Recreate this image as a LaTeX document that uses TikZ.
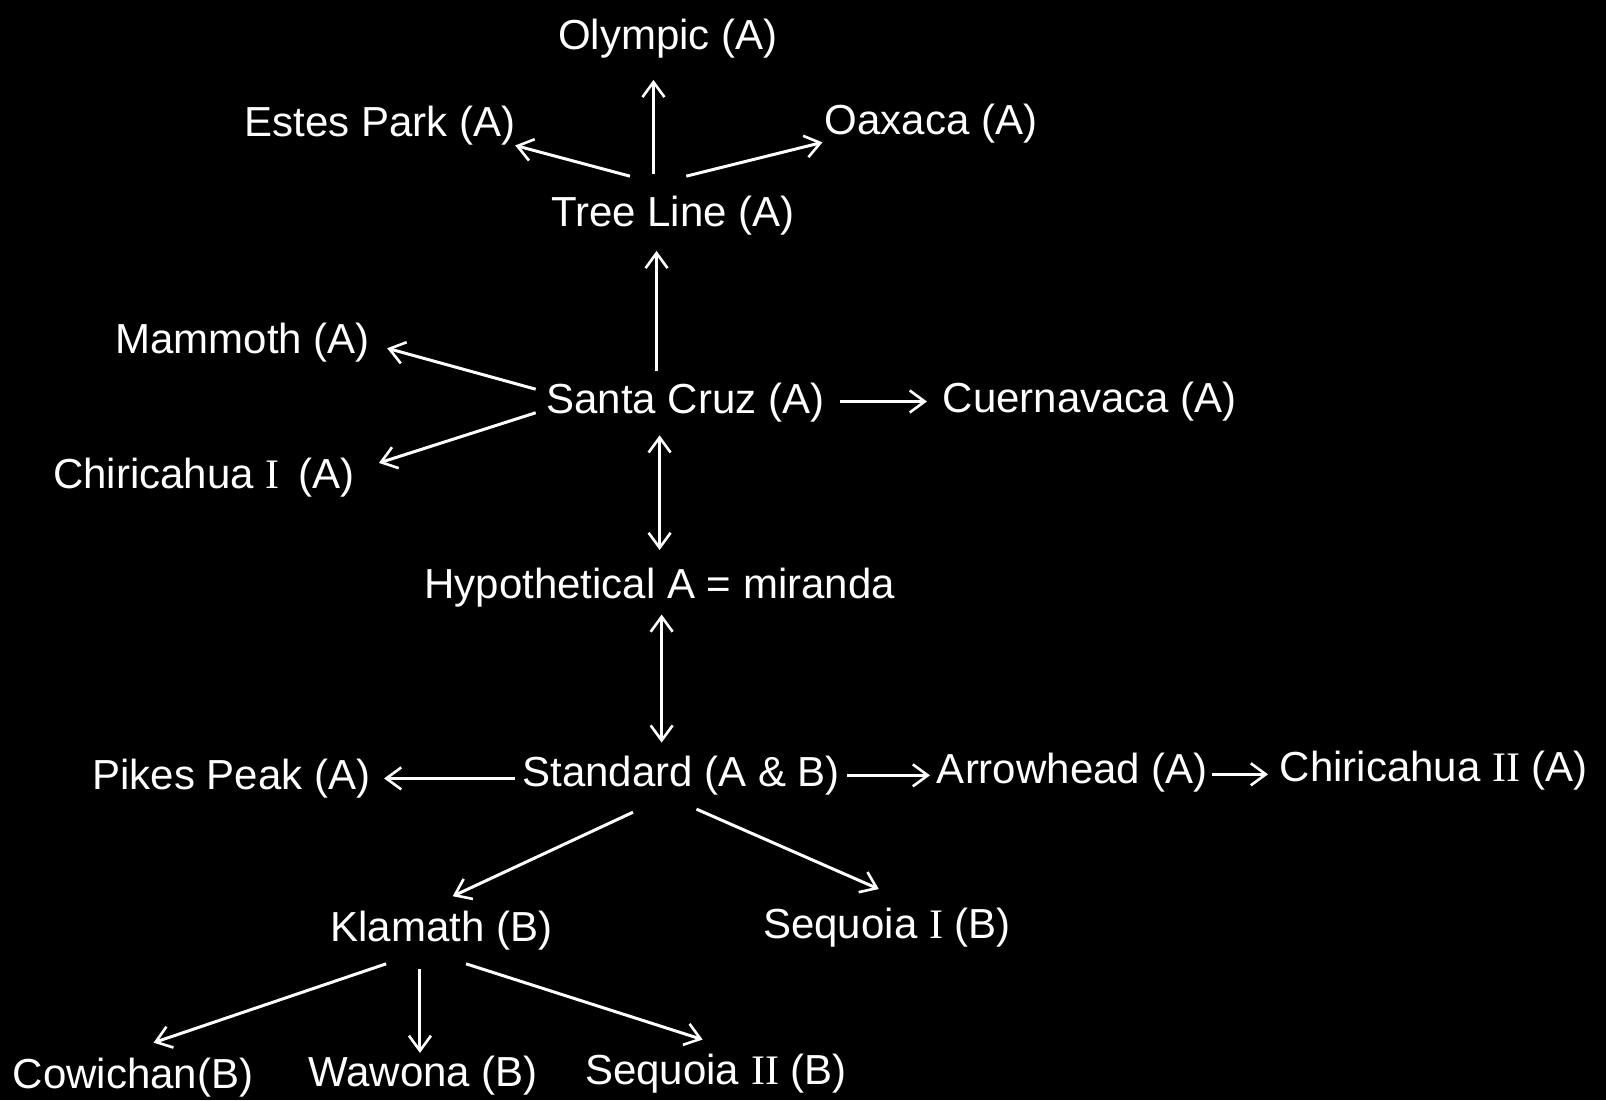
\documentclass[tikz,border=0pt]{standalone}
\usepackage{fontspec}
\setmainfont{Liberation Sans}
\newfontfamily\rnum{Liberation Serif}
\usetikzlibrary{arrows.meta,calc}
\begin{document}
\begin{tikzpicture}[x=1.0242pt,y=-1.0242pt,
  lab/.style={text=white,font=\fontsize{42}{50}\selectfont,inner sep=0pt,text height=34pt,text depth=7pt},
  barb/.tip={Straight Barb[length=15pt,width=22pt,line width=2.6pt]},
  arr/.style={draw=white,line width=3pt,-barb},
  darr/.style={draw=white,line width=3pt,barb-barb}]
\fill[black] (0,0) rectangle (1568,1074);
\node[lab] (ol) at (652,35) {Olympic (A)};
\node[lab] (ep) at (371,120) {Estes Park (A)};
\node[lab] (ox) at (909,118) {Oaxaca (A)};
\node[lab] (tl) at (657,208) {Tree Line (A)};
\node[lab] (mm) at (237,332) {Mammoth (A)};
\node[lab] (sc) at (669,391) {Santa Cruz (A)};
\node[lab] (cu) at (1064,390) {Cuernavaca (A)};
\node[lab] (c1) at (199,464) {Chiricahua {\rnum I} \,(A)};
\node[lab] (hy) at (644,571) {Hypothetical A = miranda};
\node[lab] (pp) at (226,758) {Pikes Peak (A)};
\node[lab] (st) at (665,755) {Standard (A \& B)};
\node[lab] (ah) at (1047,752) {Arrowhead (A)};
\node[lab] (c2) at (1400,750) {Chiricahua {\rnum II} (A)};
\node[lab] (kl) at (431,906) {Klamath (B)};
\node[lab] (s1) at (866,903) {Sequoia {\rnum I} (B)};
\node[lab] (cw) at (130,1050) {Cowichan(B)};
\node[lab] (wa) at (413,1048) {Wawona (B)};
\node[lab] (s2) at (699,1046) {Sequoia {\rnum II} (B)};

\draw[arr] ($(tl)+(-19,-38)$) -- ($(ol)+(-14,43)$);
\draw[arr] ($(tl)+(-42,-36)$) -- ($(ep)+(132,22)$);
\draw[arr] ($(tl)+(13,-36)$) -- ($(ox)+(-106,21)$);
\draw[arr] ($(sc)+(-28,-29)$) -- ($(tl)+(-16,37)$);
\draw[arr] ($(sc)+(-146,-11)$) -- ($(mm)+(141,8)$);
\draw[arr] ($(sc)+(-146,12)$) -- ($(c1)+(171,-12)$);
\draw[arr] ($(sc)+(151,1)$) -- ($(cu)+(-159,2)$);
\draw[darr] ($(sc)+(-25,34)$) -- ($(hy)+(0,-34)$);
\draw[darr] ($(hy)+(2,29)$) -- ($(st)+(-19,-30)$);
\draw[arr] ($(st)+(-162,5)$) -- ($(pp)+(149,2)$);
\draw[arr] ($(st)+(162,2)$) -- ($(ah)+(-139,5)$);
\draw[arr] ($(ah)+(136,4)$) -- ($(c2)+(-162,6)$);
\draw[arr] ($(st)+(-47,38)$) -- ($(kl)+(11,-31)$);
\draw[arr] ($(st)+(15,35)$) -- ($(s1)+(-8,-35)$);
\draw[arr] ($(kl)+(-54,35)$) -- ($(cw)+(20,-32)$);
\draw[arr] ($(kl)+(-21,40)$) -- ($(wa)+(-3,-20)$);
\draw[arr] ($(kl)+(24,35)$) -- ($(s2)+(-13,-31)$);
\end{tikzpicture}
\end{document}
